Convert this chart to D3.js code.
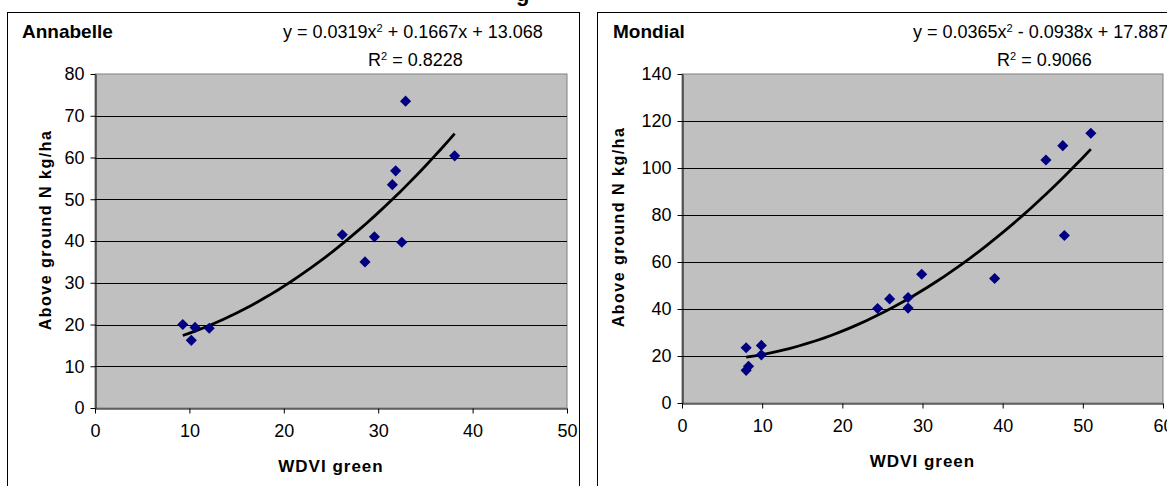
<!DOCTYPE html>
<html>
<head>
<meta charset="utf-8">
<script src="https://cdn.jsdelivr.net/npm/d3@7"></script>
<style>
  body { margin: 0; background: #fff; }
  svg text { font-family: "Liberation Sans", Arial, sans-serif; }
</style>
</head>
<body>
<svg id="chart" width="1167" height="486"></svg>
<script>
/* values */
var annWdvi = [9.3, 10.2, 10.6, 12.1, 26.2, 28.6, 29.6, 31.5, 31.85, 32.5, 32.9, 38.1];
var annN    = [20.0, 16.2, 19.3, 19.1, 41.5, 35.0, 41.0, 53.5, 56.8, 39.7, 73.5, 60.4];
var annFit  = [0.0319, 0.1667, 13.068];   // y = a x^2 + b x + c, printed on chart
var annXTicks = [0, 10, 20, 30, 40, 50];
var annYTicks = [0, 10, 20, 30, 40, 50, 60, 70, 80];

var monWdvi = [8.0, 8.0, 8.3, 9.9, 9.9, 24.4, 25.9, 28.2, 28.2, 29.9, 39.0, 45.4, 47.5, 47.7, 51.0];
var monN    = [23.5, 13.9, 15.6, 24.5, 20.5, 40.2, 44.3, 44.9, 40.4, 54.8, 53.0, 103.4, 109.5, 71.3, 114.8];
var monFit  = [0.0365, -0.0938, 17.887];
var monXTicks = [0, 10, 20, 30, 40, 50, 60];
var monYTicks = [0, 20, 40, 60, 80, 100, 120, 140];

var svg = d3.select('#chart');

// cut-off title above the panels (only its descender shows)
svg.append('text').attr('x', 516).attr('y', 1)
  .style('font-weight', 'bold').style('font-size', '22px').text('g');

var drawPanel = function(p) {
  var g = svg.append('g');
  g.append('rect').attr('x', p.box[0] + 0.5).attr('y', p.box[1] + 0.5)
    .attr('width', p.box[2]).attr('height', p.box[3])
    .attr('fill', '#fff').attr('stroke', '#000');

  var x = d3.scaleLinear().domain([0, d3.max(p.xTicks)]).range([p.plot[0], p.plot[1]]);
  var y = d3.scaleLinear().domain([0, d3.max(p.yTicks)]).range([p.plot[3], p.plot[2]]);

  g.append('rect').attr('x', p.plot[0]).attr('y', p.plot[2])
    .attr('width', p.plot[1] - p.plot[0]).attr('height', p.plot[3] - p.plot[2])
    .attr('fill', '#c0c0c0').attr('stroke', '#808080');

  // gridlines
  g.append('g').selectAll('line').data(p.yTicks.slice(1, -1)).enter().append('line')
    .attr('x1', p.plot[0]).attr('x2', p.plot[1])
    .attr('y1', function(d) { return Math.round(y(d)) + 0.5; })
    .attr('y2', function(d) { return Math.round(y(d)) + 0.5; })
    .attr('stroke', '#000');

  var ya = g.append('g').attr('transform', 'translate(' + (p.plot[0] + 0.5) + ',0)')
    .call(d3.axisLeft(y).tickValues(p.yTicks).tickSize(5).tickPadding(6).tickSizeOuter(0));
  var xa = g.append('g').attr('transform', 'translate(0,' + (p.plot[3] + 0.5) + ')')
    .call(d3.axisBottom(x).tickValues(p.xTicks).tickSize(5).tickPadding(11).tickSizeOuter(0));
  [ya, xa].forEach(function(a) {
    a.select('.domain').attr('stroke', '#000');
    a.selectAll('.tick line').attr('stroke', '#000');
    a.selectAll('.tick text').attr('fill', '#000').style('font-size', '18px')
      .style('font-family', null);
  });

  // trend line from the printed equation, over the range of the points
  var lo = d3.min(p.xs), hi = d3.max(p.xs);
  var xsLine = d3.range(0, 41).map(function(i) { return lo + (hi - lo) * i / 40; });
  var line = d3.line()
    .x(function(d) { return x(d); })
    .y(function(d) { return y(p.fit[0] * d * d + p.fit[1] * d + p.fit[2]); });
  g.append('path').datum(xsLine).attr('d', line)
    .attr('fill', 'none').attr('stroke', '#000').attr('stroke-width', 2.8);

  var sym = d3.symbol().type(d3.symbolSquare).size(62);
  g.append('g').selectAll('path').data(p.xs).enter().append('path')
    .attr('d', sym)
    .attr('transform', function(d, i) { return 'translate(' + x(d) + ',' + y(p.ys[i]) + ') rotate(45)'; })
    .attr('fill', '#000080');

  g.append('text').attr('x', p.name[1]).attr('y', p.name[2])
    .style('font-weight', 'bold').style('font-size', '19px').text(p.name[0]);
  g.append('text').attr('x', p.eq[1]).attr('y', p.eq[2]).style('font-size', '18px')
    .html(p.eq[0]);
  g.append('text').attr('x', p.r2[1]).attr('y', p.r2[2]).style('font-size', '18px')
    .html('R<tspan dy="-6" font-size="11">2</tspan><tspan dy="6"> = ' + p.r2[0] + '</tspan>');

  g.append('text').attr('x', (p.plot[0] + p.plot[1]) / 2).attr('y', p.plot[3] + 64)
    .attr('text-anchor', 'middle').style('font-weight', 'bold').style('font-size', '17px')
    .style('letter-spacing', '1px').text('WDVI green');
  g.append('text').attr('transform', 'translate(' + p.ytitle[0] + ',' + p.ytitle[1] + ') rotate(-90)')
    .attr('text-anchor', 'middle').attr('dy', '0.35em')
    .style('font-weight', 'bold').style('font-size', '16px')
    .style('letter-spacing', '1.5px').text('Above ground N kg/ha');
};

drawPanel({
  box: [7, 12, 572, 500],
  plot: [95, 567, 74, 408],
  xs: annWdvi, ys: annN, fit: annFit, xTicks: annXTicks, yTicks: annYTicks,
  name: ['Annabelle', 22, 38],
  eq: ['y = 0.0319x<tspan dy="-6" font-size="11">2</tspan><tspan dy="6"> + 0.1667x + 13.068</tspan>', 283, 38],
  r2: ['0.8228', 368, 66],
  ytitle: [45, 230]
});

drawPanel({
  box: [597, 12, 620, 500],
  plot: [682, 1163, 74, 403],
  xs: monWdvi, ys: monN, fit: monFit, xTicks: monXTicks, yTicks: monYTicks,
  name: ['Mondial', 613, 38],
  eq: ['y = 0.0365x<tspan dy="-6" font-size="11">2</tspan><tspan dy="6"> - 0.0938x + 17.887</tspan>', 913, 38],
  r2: ['0.9066', 997, 66],
  ytitle: [618, 227]
});
</script>
</body>
</html>
